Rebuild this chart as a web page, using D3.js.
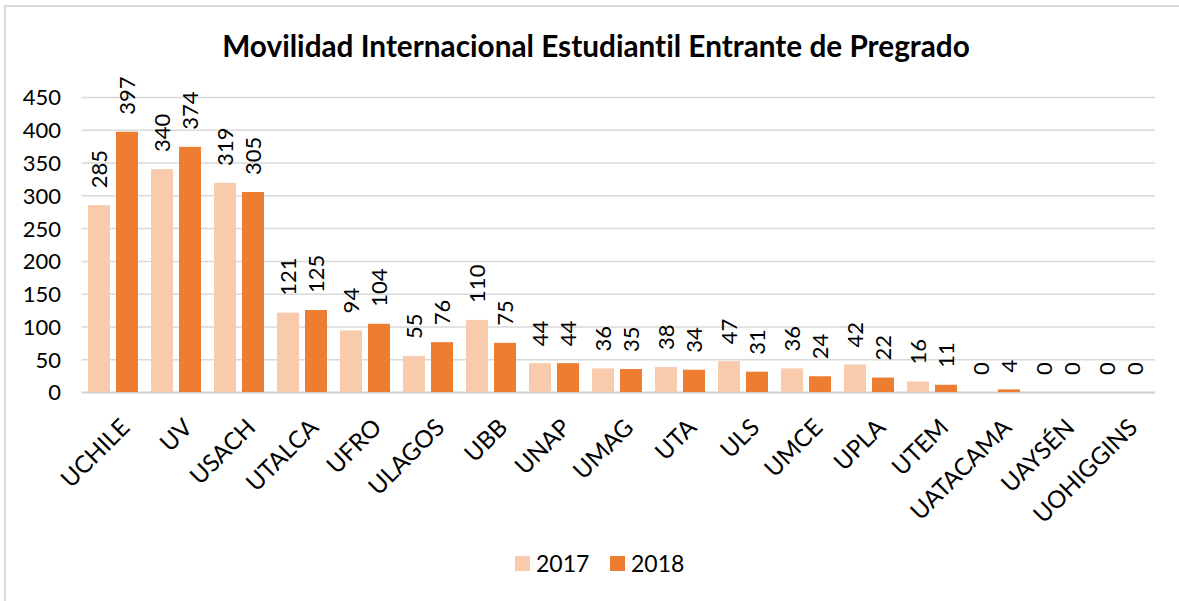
<!DOCTYPE html>
<html><head><meta charset="utf-8">
<script src="https://cdn.jsdelivr.net/npm/d3@7"></script>
<style>body{margin:0;background:#fff;} svg{display:block;font-family:Lato,"Open Sans",sans-serif;font-variant-ligatures:none;font-feature-settings:"liga" 0;}</style>
</head><body>
<svg id="chart" width="1179" height="601"></svg>
<script>
const title = "Movilidad Internacional Estudiantil Entrante de Pregrado";
const categories = ["UCHILE","UV","USACH","UTALCA","UFRO","ULAGOS","UBB","UNAP","UMAG","UTA","ULS","UMCE","UPLA","UTEM","UATACAMA","UAYSÉN","UOHIGGINS"];
const values2017 = [285,340,319,121,94,55,110,44,36,38,47,36,42,16,0,0,0];
const values2018 = [397,374,305,125,104,76,75,44,35,34,31,24,22,11,4,0,0];
const seriesNames = ["2017","2018"];
const yTicks = [0,50,100,150,200,250,300,350,400,450];
const colors = ["#F8CBAD","#ED7D31"];

const svg = d3.select("#chart");
const pLeft = 81.5, pRight = 1152.5, pTop = 97, pBottom = 392;

svg.append("rect").attr("x",5).attr("y",6).attr("width",1300).attr("height",800)
  .attr("fill","none").attr("stroke","#d9d9d9").attr("stroke-width",2);

const x0 = d3.scaleBand().domain(categories).range([pLeft,pRight]).paddingInner(13/63).paddingOuter(6.5/63);
const x1 = d3.scaleBand().domain(seriesNames).range([0,x0.bandwidth()]).paddingInner(6/28);
const y = d3.scaleLinear().domain([0,450]).range([pBottom,pTop]);

// gridlines
const grid = svg.append("g").attr("transform",`translate(${pLeft},0)`)
  .call(d3.axisLeft(y).tickValues(yTicks).tickSize(-(1155-pLeft)).tickFormat(""));
grid.select(".domain").remove();
grid.selectAll("line").attr("stroke","#d9d9d9").attr("stroke-width",1.5);
grid.selectAll(".tick").filter(d=>d===0).select("line").attr("stroke","#d0d0d0").attr("stroke-width",2);

// y labels
const ya = svg.append("g").attr("transform",`translate(61,0)`)
  .call(d3.axisLeft(y).tickValues(yTicks).tickSize(0).tickPadding(0));
ya.select(".domain").remove();
ya.selectAll("text").attr("font-size",22).attr("fill","#000").attr("font-family","Lato").attr("dy","0.36em");

const data = categories.map((c,i)=>({cat:c, vals:[values2017[i],values2018[i]]}));
const groups = svg.append("g").selectAll("g").data(data).join("g")
  .attr("transform",d=>`translate(${x0(d.cat)},0)`);
groups.selectAll("rect").data(d=>d.vals.map((v,j)=>({v,s:seriesNames[j],j})))
  .join("rect")
  .attr("x",d=>x1(d.s)).attr("width",x1.bandwidth())
  .attr("y",d=>y(d.v)).attr("height",d=>y(0)-y(d.v))
  .attr("fill",d=>colors[d.j]);
groups.selectAll("text").data(d=>d.vals.map((v,j)=>({v,s:seriesNames[j],j})))
  .join("text")
  .attr("transform",d=>`translate(${x1(d.s)+x1.bandwidth()/2},${y(d.v)-17}) rotate(-90)`)
  .attr("text-anchor","start").attr("dy","0.36em")
  .attr("font-size",22).attr("fill","#000")
  .text(d=>d.v);

// x labels
const xa = svg.append("g").attr("transform",`translate(0,${pBottom})`)
  .call(d3.axisBottom(x0).tickSize(0).tickPadding(0));
xa.select(".domain").remove();
xa.selectAll("text").attr("font-size",24).attr("fill","#000").attr("font-family","Lato")
  .attr("text-anchor","end").attr("dy",0).attr("y",0)
  .attr("transform","translate(18,37) rotate(-45)");

// title
const t = svg.append("text").attr("x",596).attr("y",57).attr("text-anchor","middle")
  .attr("font-weight","bold").attr("font-size",26).attr("fill","#000").text(title);
const w = t.node().getComputedTextLength();
t.attr("font-size",26*748/w);

// legend
const lg = svg.append("g");
const lx = [515,610];
seriesNames.forEach((s,i)=>{
  lg.append("rect").attr("x",lx[i]).attr("y",556).attr("width",15).attr("height",15).attr("fill",colors[i]);
  lg.append("text").attr("x",lx[i]+21).attr("y",572).attr("font-size",23).attr("fill","#000").text(s);
});
</script>
</body></html>
